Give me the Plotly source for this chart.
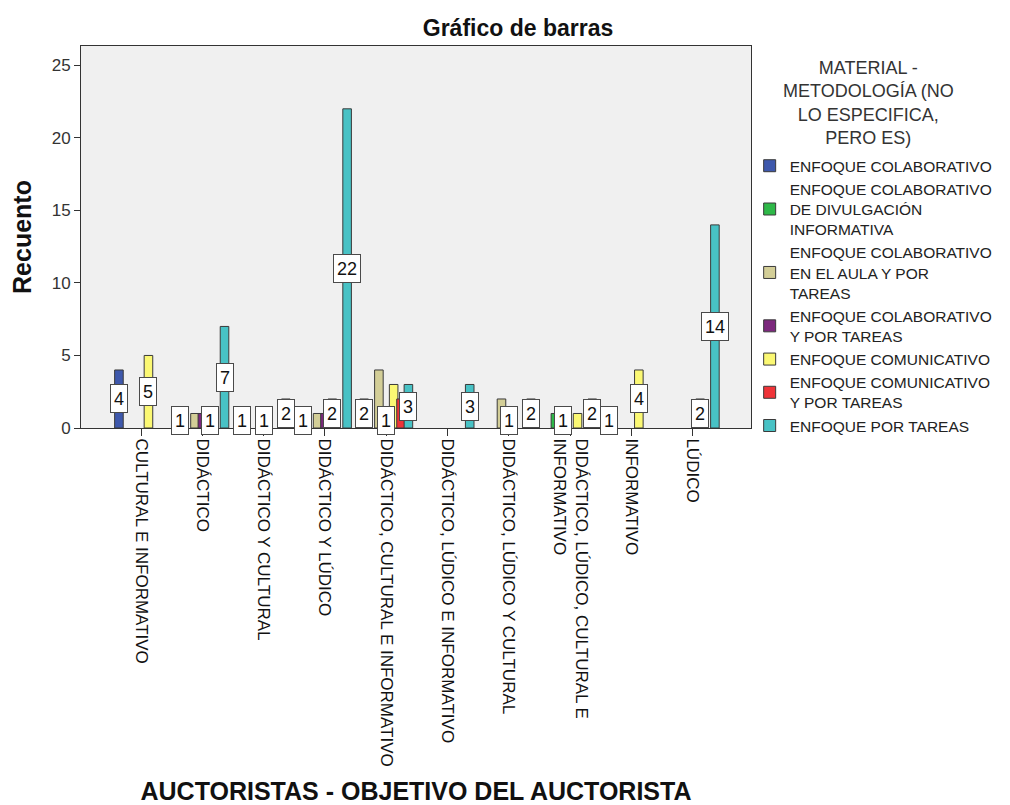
import plotly.graph_objects as go

categories = [
    "CULTURAL E INFORMATIVO",
    "DIDÁCTICO",
    "DIDÁCTICO Y CULTURAL",
    "DIDÁCTICO Y LÚDICO",
    "DIDÁCTICO, CULTURAL E INFORMATIVO",
    "DIDÁCTICO, LÚDICO E INFORMATIVO",
    "DIDÁCTICO, LÚDICO Y CULTURAL",
    "DIDÁCTICO, LÚDICO, CULTURAL E<br>INFORMATIVO",
    "INFORMATIVO",
    "LÚDICO",
]

series_names = [
    "ENFOQUE COLABORATIVO",
    "ENFOQUE COLABORATIVO<br>DE DIVULGACIÓN<br>INFORMATIVA",
    "ENFOQUE COLABORATIVO<br>EN EL AULA Y POR<br>TAREAS",
    "ENFOQUE COLABORATIVO<br>Y POR TAREAS",
    "ENFOQUE COMUNICATIVO",
    "ENFOQUE COMUNICATIVO<br>Y POR TAREAS",
    "ENFOQUE POR TAREAS",
]

colaborativo = [4, 1, 1, 1, 2, 0, 0, 0, 1, 0]
divulgacion = [0, 0, 0, 0, 0, 0, 0, 1, 0, 0]
aula_tareas = [0, 1, 0, 1, 4, 0, 2, 1, 0, 0]
colab_tareas = [0, 1, 1, 1, 1, 0, 1, 0, 0, 0]
comunicativo = [5, 1, 0, 2, 3, 0, 0, 1, 4, 2]
comunic_tareas = [0, 0, 0, 0, 2, 0, 0, 0, 0, 0]
por_tareas = [0, 7, 2, 22, 3, 3, 2, 2, 0, 14]

series_values = [colaborativo, divulgacion, aula_tareas, colab_tareas,
                 comunicativo, comunic_tareas, por_tareas]
colors = ["#3E58AC", "#2EB848", "#D3CE97", "#7C287D",
          "#FBF873", "#EF3338", "#48C2C5"]

y_ticks = [0, 5, 10, 15, 20, 25]
legend_title = "MATERIAL -<br>METODOLOGÍA (NO<br>LO ESPECIFICA,<br>PERO ES)"

FONT = "Arial, Liberation Sans, sans-serif"
slot = 0.1204
bar_w = 0.14
x_idx = list(range(len(categories)))

# the page body adds an 8px offset, so the figure is drawn 8px smaller
W, H = 1002, 797

fig = go.Figure()
for i, (name, vals) in enumerate(zip(series_names, series_values)):
    fig.add_bar(
        x=x_idx,
        y=[v if v else None for v in vals],
        name=name,
        width=bar_w,
        offset=(i - 3) * slot - bar_w / 2,
        marker=dict(color=colors[i], line=dict(color="#3a3a3a", width=1)),
    )

# value labels, hidden where boxes would collide (right to left, like SPSS)
annotations = []
for c in x_idx:
    kept = []
    for i in range(len(series_values) - 1, -1, -1):
        v = series_values[i][c]
        if not v:
            continue
        if any(abs(i - j) <= 2 and abs(v / 2 - w / 2) < 1.9 for j, w in kept):
            continue
        kept.append((i, v))
        annotations.append(dict(
            x=c + (i - 3) * slot, y=v / 2, xref="x", yref="y",
            text=str(v), showarrow=False,
            font=dict(family=FONT, size=18, color="#111"),
            bgcolor="white", bordercolor="#4a4a4a", borderwidth=1,
            borderpad=1, height=25, width=14 if v < 10 else 24,
        ))

annotations.append(dict(
    x=(881 - 81) / 681, y=(428 - 103) / 382, xref="paper", yref="paper",
    text=legend_title, showarrow=False, align="center",
    xanchor="center", yanchor="middle",
    font=dict(family=FONT, size=18, color="#333"),
))

fig.update_layout(
    width=W, height=H,
    margin=dict(l=73, r=248, t=38, b=377),
    paper_bgcolor="white", plot_bgcolor="#F0F0F0",
    barmode="overlay",
    font=dict(family=FONT, color="#222"),
    title=dict(text="<b>Gráfico de barras</b>", x=510 / W, xanchor="center",
               y=1 - 20 / H, yanchor="middle",
               font=dict(size=23, color="#111")),
    showlegend=True,
    legend=dict(
        x=0.998, xanchor="left", y=0.73, yanchor="top",
        bgcolor="rgba(0,0,0,0)",
        font=dict(size=15.5, color="#222"),
        tracegroupgap=0,
    ),
    annotations=annotations,
)

fig.update_xaxes(
    range=[-0.98, 9.95], tickvals=x_idx, ticktext=categories,
    tickangle=90, ticks="outside", ticklen=7, tickcolor="#333",
    tickfont=dict(size=17, color="#111"), ticklabelstandoff=-1,
    showline=True, linecolor="#333", mirror=True, showgrid=False, zeroline=False,
    automargin=False,
    title=dict(text="<b>AUCTORISTAS - OBJETIVO DEL AUCTORISTA</b>",
               font=dict(size=25, color="#111"), standoff=20),
)
fig.update_yaxes(
    range=[0, 26.33], tickvals=y_ticks,
    ticks="outside", ticklen=6, tickcolor="#333",
    tickfont=dict(size=17, color="#333"),
    showline=True, linecolor="#333", mirror=True, showgrid=False, zeroline=False,
    automargin=False,
    title=dict(text="<b>Recuento</b>", font=dict(size=25, color="#111"), standoff=15),
)

fig.write_html("out.html")
